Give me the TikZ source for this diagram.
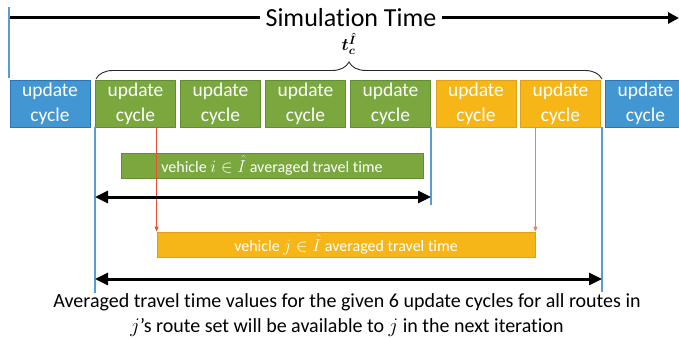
\documentclass[tikz,border=0pt]{standalone}
\usepackage{bm}
\usepackage{fontspec}
\setmainfont{Carlito}[Ligatures=NoCommon]
\usetikzlibrary{arrows.meta,decorations.pathreplacing}
\definecolor{blueF}{RGB}{66,150,210}
\definecolor{blueD}{RGB}{46,117,182}
\definecolor{greenF}{RGB}{122,168,62}
\definecolor{greenD}{RGB}{100,140,50}
\definecolor{orangeF}{RGB}{246,182,24}
\definecolor{orangeD}{RGB}{222,160,20}
\definecolor{lineblue}{RGB}{91,155,213}
\definecolor{redline}{RGB}{232,80,50}
\begin{document}
\begin{tikzpicture}[x=1pt,y=-1pt,
  cyclebox/.style={minimum width=80pt, minimum height=47pt, inner sep=0pt, text=white,
    font=\fontsize{19.5}{25}\selectfont, align=center, line width=0.8pt},
  bar/.style={minimum height=25pt, inner sep=0pt, text=white, font=\fontsize{16}{18}\selectfont, line width=0.8pt},
  vline/.style={draw=lineblue, line width=1.1pt},
  redarrow/.style={draw=redline, line width=0.8pt, -{Triangle[length=5pt,width=4pt]}},
  dblarrow/.style={line width=3pt, {Triangle[length=13pt,width=12pt]}-{Triangle[length=13pt,width=12pt]}},
]
\useasboundingbox (0,0) rectangle (679,339);
\clip (0,0) rectangle (679,339);

% simulation time axis
\coordinate (s0) at (10,18);
\coordinate (s1) at (679,18);
\coordinate (t0) at (9,7);
\coordinate (t1) at (9,78);
\draw[vline] (t0) -- (t1);
\draw[line width=3pt, -{Triangle[length=11pt,width=11pt]}] (s0) -- (s1);
\node[fill=white, inner xsep=6pt, inner ysep=2pt, font=\fontsize{26}{30}\selectfont] (sim) at (351,18) {Simulation Time};

% update cycles
\node[cyclebox, fill=blueF, draw=blueD] (c0) at (50,103.5) {update\\cycle};
\node[cyclebox, fill=greenF, draw=greenD] (c1) at (135.5,103.5) {update\\cycle};
\node[cyclebox, fill=greenF, draw=greenD] (c2) at (220.5,103.5) {update\\cycle};
\node[cyclebox, fill=greenF, draw=greenD] (c3) at (305.5,103.5) {update\\cycle};
\node[cyclebox, fill=greenF, draw=greenD] (c4) at (390.5,103.5) {update\\cycle};
\node[cyclebox, fill=orangeF, draw=orangeD] (c5) at (476,103.5) {update\\cycle};
\node[cyclebox, fill=orangeF, draw=orangeD] (c6) at (560.5,103.5) {update\\cycle};
\node[cyclebox, fill=blueF, draw=blueD] (c7) at (645.5,103.5) {update\\cycle};

% brace
\coordinate (br0) at (96,79);
\coordinate (br1) at (602,79);
\draw[line width=0.9pt, draw=black!85, decorate, decoration={brace, amplitude=17pt}] (br0) -- (br1);
\node[font=\fontsize{17}{20}\selectfont, inner sep=0pt] (tc) at (349,44) {$\bm{t_c^{\hat{I}}}$};

% bars
\node[bar, fill=greenF, draw=greenD, minimum width=302pt] (gbar) at (272,165.5) {vehicle $i\in\hat{I}$ averaged travel time};
\node[bar, fill=orangeF, draw=orangeD, minimum width=378pt] (obar) at (346,244.5) {vehicle $j\in\hat{I}$ averaged travel time};

% vertical blue lines
\coordinate (v1) at (95,127);
\coordinate (v1b) at (95,293);
\coordinate (v2) at (431,127);
\coordinate (v2b) at (431,205);
\coordinate (v3) at (602,127);
\coordinate (v3b) at (602,292);
\draw[vline] (v1) -- (v1b);
\draw[vline] (v2) -- (v2b);
\draw[vline] (v3) -- (v3b);

% red arrows
\draw[redarrow] (obar.north west |- c1.south) -- (obar.north west);
\draw[redarrow, draw=redline!75] (obar.north east |- c6.south) -- (obar.north east);

% black double arrows
\coordinate (a1l) at (95,197);
\coordinate (a1r) at (431,197);
\coordinate (a2l) at (95,279);
\coordinate (a2r) at (602,279);
\draw[dblarrow] (a1l) -- (a1r);
\draw[dblarrow] (a2l) -- (a2r);

% caption
\node[align=center, font=\fontsize{20}{25}\selectfont, inner sep=0pt] (cap) at (347,315)
  {Averaged travel time values for the given 6 update cycles for all routes in\\
   $j$’s route set will be available to $j$ in the next iteration};
\end{tikzpicture}
\end{document}
